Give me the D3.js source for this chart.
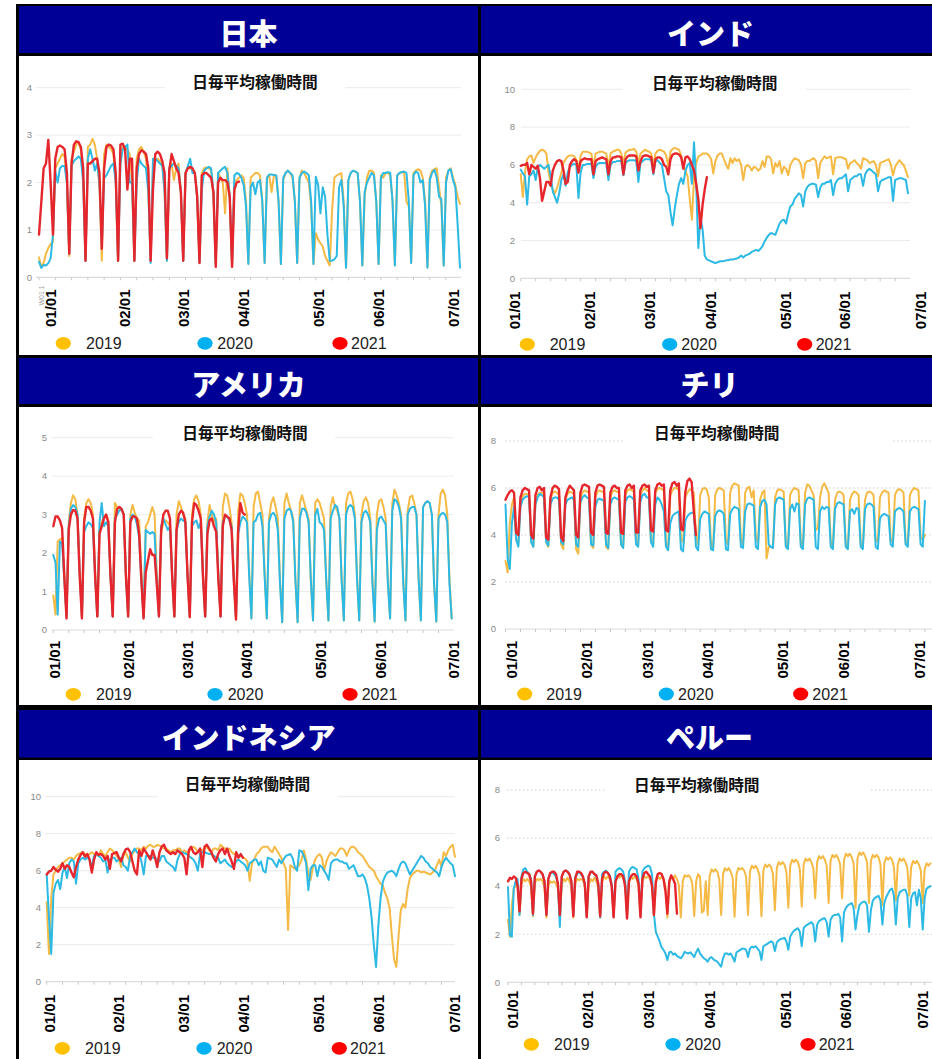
<!DOCTYPE html>
<html><head><meta charset="utf-8">
<script src="https://cdn.jsdelivr.net/npm/d3@7"></script>
<style>body{margin:0;background:#fff}svg{display:block}</style>
</head><body>
<svg id="c" width="932" height="1059"></svg>
<script>
// ---------- labels ----------
const countries = ["日本","インド","アメリカ","チリ","インドネシア","ペルー"];
const chartTitle = "日毎平均稼働時間";
const seriesNames = ["2019","2020","2021"];
const tickLabels = ["01/01","02/01","03/01","04/01","05/01","06/01","07/01"];

// ---------- Japan ----------
const jp2019 = [0.42,0.22,0.3,0.5,0.62,0.7,0.75,
2.3,2.4,2.5,2.6,2.55,2.0,0.45, 2.5,2.65,2.8,2.85,2.7,2.1,0.35, 2.75,2.8,2.92,2.8,2.5,1.9,0.35,
2.6,2.8,2.75,2.7,2.6,2.0,0.35, 2.6,2.75,2.75,2.7,2.6,2.0,0.35, 2.5,2.7,2.75,2.65,2.5,1.9,0.35,
2.35,2.45,2.5,2.45,2.4,1.8,0.35, 2.3,2.4,2.05,2.3,2.4,1.8,0.35, 2.2,2.3,2.3,2.25,2.2,1.7,0.3,
2.2,2.3,2.32,2.3,2.25,1.7,0.3, 2.2,2.1,2.0,1.35,2.3,1.7,0.28, 2.0,2.05,2.1,2.15,2.1,1.6,0.3,
2.1,2.15,2.2,2.2,2.15,1.6,0.3, 2.1,2.15,1.8,2.15,2.15,1.6,0.28, 2.05,2.2,2.25,2.2,2.1,1.6,0.3,
2.1,2.25,2.2,2.1,2.0,1.5,0.28, 0.93,0.8,0.72,0.65,0.45,0.35,0.25, 1.4,2.1,2.15,2.17,2.2,1.6,0.2,
2.05,2.2,2.25,2.23,2.2,1.6,0.25, 1.7,2.1,2.25,2.25,2.2,1.6,0.28, 2.15,2.1,2.2,2.2,2.15,1.6,0.25,
2.15,2.2,2.22,2.2,1.6,1.5,0.3, 2.2,2.25,2.28,2.25,2.1,1.6,0.22, 2.1,2.25,2.28,2.3,1.9,1.5,0.25,
2.1,2.25,2.3,2.1,1.95,1.7,1.55];
const jp2020 = [0.33,0.2,0.26,0.25,0.3,0.4,0.9,
2.25,2.0,2.3,2.35,2.35,2.0,0.5, 2.35,2.45,2.5,2.55,2.5,2.0,0.35, 2.5,2.7,2.5,2.25,2.4,2.0,0.65,
2.1,2.15,2.25,2.35,2.4,2.0,0.35, 2.4,2.7,2.75,2.8,2.0,2.0,0.35, 2.0,2.5,2.4,2.35,2.3,1.8,0.3,
2.5,2.5,2.45,2.4,2.35,1.8,0.35, 2.3,2.35,2.4,2.35,2.3,1.8,0.35, 2.2,2.35,2.5,2.2,2.2,1.7,0.3,
1.85,2.25,2.3,2.33,2.3,1.8,0.25, 2.2,2.25,2.3,2.33,2.2,1.7,0.26, 2.15,2.2,2.18,2.1,1.95,1.5,0.28,
1.9,2.0,1.75,2.0,2.05,1.6,0.3, 2.1,2.17,2.17,2.16,2.15,1.6,0.28, 2.1,2.2,2.25,2.2,2.15,1.6,0.3,
2.1,2.2,2.23,2.2,2.15,1.6,0.28, 2.12,1.95,1.35,1.9,1.7,0.9,0.35, 0.35,0.38,0.45,1.9,2.05,1.5,0.2,
2.05,2.2,2.25,2.23,2.2,1.6,0.25, 1.8,2.0,2.1,2.2,2.15,1.6,0.28, 2.1,2.2,2.2,2.22,2.2,1.6,0.25,
2.15,2.2,2.22,2.23,2.2,1.6,0.3, 2.15,2.23,2.2,2.0,2.05,1.5,0.2, 2.05,2.2,2.27,2.1,1.7,1.65,0.25,
2.0,2.25,2.28,2.05,1.9,1.1,0.2];
const jp2021 = [0.9,1.6,2.3,2.4,2.9,2.0,0.9,
2.5,2.75,2.78,2.75,2.7,2.2,0.5, 2.4,2.8,2.87,2.85,2.75,2.3,0.35, 2.4,2.4,2.45,2.5,2.5,2.2,0.6,
2.3,2.75,2.8,2.78,2.7,2.2,0.35, 2.8,2.82,2.7,1.85,2.5,2.5,0.35, 2.3,2.6,2.68,2.65,2.6,2.3,0.35,
1.85,2.6,2.65,2.6,2.45,2.2,0.4, 2.25,2.6,2.45,2.3,2.2,1.8,0.35, 2.2,2.3,2.33,2.3,2.2,1.7,0.3,
2.15,2.2,2.2,2.15,2.1,1.8,0.22, 2.0,2.1,2.05,2.05,2.0,1.7,0.22, 1.85,2.0,2.02];
const jpTickDays = [5.0,37.0,62.3,88.1,120.4,146.2,178.4];

// ---------- India ----------
const in2019 = [5.5,4.3,5.6,6.3,6.45,6.5,6.1, 6.4,6.6,6.75,6.8,6.75,6.6,5.6, 5.1,4.7,4.5,4.8,5.2,5.6,6.1,
6.3,6.45,6.5,6.5,6.45,6.3,5.8, 6.5,6.7,6.7,6.7,6.65,6.6,5.9, 6.6,6.65,6.7,6.7,6.65,6.6,5.9,
6.6,6.7,6.75,6.8,6.8,6.6,6.1, 6.65,6.75,6.8,6.8,6.85,6.7,6.1, 6.6,6.7,6.8,6.75,6.7,6.6,6.0,
6.6,6.75,6.8,6.75,6.7,6.5,5.9, 6.7,6.85,6.9,6.85,6.8,6.5,5.95, 5.7,5.4,4.2,3.1,5.3,6.1,6.45,
6.5,6.6,6.6,6.6,6.5,6.3,5.55, 6.2,6.5,6.6,6.6,6.3,6.0,5.8, 6.35,6.1,6.35,6.2,6.3,6.0,5.2,
5.9,6.0,5.9,5.7,5.9,5.85,5.7, 5.8,6.2,5.9,6.45,6.45,6.3,5.55, 6.1,5.9,6.2,5.55,5.9,5.8,5.45,
6.0,6.2,6.35,6.3,6.25,6.0,5.3, 6.1,6.2,6.2,6.3,6.35,6.2,5.3, 6.1,6.3,6.45,6.35,6.4,6.45,5.5,
6.35,6.4,6.4,6.4,6.35,6.3,5.8, 6.1,6.15,6.25,6.1,6.0,5.8,6.35, 6.3,6.25,6.1,6.15,6.2,6.0,5.4,
6.1,6.15,6.2,6.25,6.3,6.0,5.45, 5.9,6.1,6.25,6.1,6.0,5.7,5.35];
const in2020 = [5.75,5.55,5.4,3.9,5.4,5.5,5.7, 5.2,5.9,6.0,5.9,5.8,5.9,6.0, 5.4,4.6,4.3,4.0,4.5,5.2,5.5,
4.9,5.6,5.9,6.0,6.05,6.0,4.25, 5.6,6.0,6.0,6.05,6.05,6.05,5.3, 5.9,6.05,6.1,6.1,6.1,6.1,5.2,
6.0,6.15,6.15,6.2,6.2,6.2,5.45, 6.1,6.2,6.25,6.25,6.25,6.2,5.1, 6.1,6.2,6.3,6.3,6.3,6.25,5.5,
6.2,6.25,6.1,6.0,5.3,4.6,4.4, 3.5,2.8,3.7,4.4,5.0,5.3,5.0, 5.7,6.0,6.1,5.0,7.2,5.0,1.6,
3.2,2.6,1.2,1.0,0.95,0.9,0.85, 0.8,0.85,0.9,0.9,0.92,0.95,0.95, 1.0,1.0,1.02,1.05,1.1,1.2,1.1,
1.2,1.25,1.3,1.4,1.45,1.5,1.45, 1.55,1.7,1.95,2.15,2.3,2.4,2.35, 2.3,2.6,2.9,3.05,3.1,2.9,3.4,
3.8,3.9,4.2,4.35,4.5,4.4,3.8, 4.6,4.85,4.95,5.0,5.0,4.95,4.3, 4.8,5.0,5.0,5.1,5.1,5.2,4.4,
5.0,5.2,5.3,5.3,5.4,5.5,4.6, 5.2,5.3,5.4,5.4,5.5,5.5,4.9, 5.5,5.7,5.8,5.7,5.6,5.5,4.6,
5.1,5.2,5.25,5.3,5.35,5.35,4.1, 5.2,5.25,5.3,5.3,5.25,5.2,4.5];
const in2021 = [5.95,6.0,6.0,6.1,5.5,6.0,5.9, 5.8,5.95,5.3,4.1,4.6,5.1,5.1, 4.9,5.7,6.0,6.2,6.25,6.2,5.7,
5.0,5.1,6.0,6.2,6.3,6.2,5.6, 6.2,6.3,6.35,6.3,6.3,6.3,5.5, 6.2,6.3,6.35,6.4,6.35,6.3,5.5,
6.2,6.4,6.4,6.45,6.45,6.4,5.5, 6.3,6.45,6.5,6.5,6.5,6.45,5.7, 6.2,6.45,6.5,6.5,6.45,6.4,5.6,
6.3,6.4,6.4,6.3,6.0,5.9,5.5, 6.3,6.55,6.6,6.6,6.55,6.4,5.8, 6.4,6.45,6.3,6.0,5.7,5.0,4.2,
2.65,3.9,4.7,5.35];
const inTickDays = [-2.8,32.2,60.3,88.6,123.6,151.4,186.9];

// ---------- America ----------
const us2019 = [0.9,0.4,2.3,2.35,2.4,1.4,0.35, 2.8,3.3,3.5,3.4,3.0,1.5,0.35, 2.9,3.3,3.4,3.3,3.0,1.5,0.35,
2.6,2.8,2.95,3.0,2.85,1.4,0.35, 3.3,3.2,3.15,3.1,3.0,1.4,0.4, 3.0,3.25,3.05,2.9,2.85,1.5,0.35,
2.7,2.8,3.0,3.2,3.0,1.5,0.4, 2.5,2.8,2.85,2.8,2.7,1.4,0.35, 3.0,3.35,3.2,3.0,2.9,1.4,0.35,
3.0,3.4,3.5,3.35,3.0,1.5,0.35, 2.8,3.25,3.0,2.8,2.9,1.4,0.35, 3.2,3.55,3.5,3.2,2.8,1.5,0.3,
3.1,3.55,3.5,3.3,3.0,1.5,0.3, 3.2,3.55,3.6,3.3,3.0,1.5,0.3, 2.9,3.3,3.45,3.2,2.9,1.3,0.2,
3.3,3.55,3.3,3.1,2.9,1.3,0.2, 3.3,3.5,3.3,3.1,2.9,1.3,0.25, 3.3,3.4,3.3,3.1,2.9,1.3,0.25,
3.2,3.45,3.2,3.1,2.9,1.3,0.25, 3.3,3.55,3.6,3.4,3.0,1.4,0.25, 3.0,3.35,3.45,3.3,2.9,1.3,0.22,
3.0,3.35,3.4,3.2,2.9,1.3,0.3, 3.3,3.65,3.5,3.3,3.0,1.3,0.25, 3.1,3.45,3.5,3.3,3.0,1.3,0.25,
3.2,3.3,3.35,3.3,3.0,1.2,0.22, 3.0,3.55,3.65,3.5,3.0,1.3,0.3];
const us2020 = [1.95,1.75,0.4,2.3,2.25,1.3,0.35, 2.7,3.15,3.25,3.2,3.0,1.5,0.35, 2.55,2.7,2.8,2.75,2.65,1.4,0.35,
2.8,3.3,2.7,2.8,2.7,1.4,0.35, 2.9,3.0,3.1,3.15,3.0,1.4,0.35, 2.9,3.0,2.95,2.75,2.4,1.3,0.35,
2.6,2.55,2.5,2.55,2.5,1.3,0.35, 2.7,2.9,2.75,2.6,2.7,1.4,0.35, 2.6,2.8,2.9,2.85,2.8,1.4,0.35,
2.7,2.8,2.85,2.65,2.8,1.4,0.35, 2.7,2.95,3.1,3.0,2.8,1.4,0.35, 2.8,2.95,2.95,2.85,2.7,1.3,0.3,
2.5,2.8,2.95,2.9,2.8,1.4,0.3, 2.8,2.85,3.0,3.05,2.7,1.4,0.3, 2.8,3.0,3.05,2.95,2.6,1.2,0.2,
2.9,3.1,3.15,3.1,2.8,1.3,0.2, 2.9,3.15,3.15,3.05,2.8,1.3,0.25, 3.0,3.15,2.8,2.75,2.6,1.3,0.25,
2.9,3.1,3.25,3.2,2.9,1.3,0.25, 3.0,3.2,3.25,3.2,2.9,1.3,0.25, 2.8,3.05,3.1,3.0,2.8,1.2,0.22,
2.6,2.9,2.95,2.85,2.75,1.2,0.3, 3.1,3.4,3.35,3.2,2.9,1.2,0.25, 3.0,3.15,3.2,3.2,3.0,1.3,0.25,
3.2,3.3,3.35,3.3,3.0,1.2,0.22, 2.9,3.0,3.05,3.0,2.8,1.2,0.3];
const us2021 = [2.7,2.95,2.95,2.85,2.65,1.4,0.3, 2.6,3.0,3.12,3.1,2.9,1.4,0.3, 2.8,3.2,3.2,3.1,2.9,1.4,0.35,
2.5,2.7,2.9,3.0,2.8,1.4,0.35, 2.8,3.15,3.2,3.15,3.0,1.4,0.35, 2.8,2.95,2.95,2.9,2.5,1.3,0.3,
1.5,1.8,2.1,1.95,1.95,1.2,0.35, 2.6,3.0,3.1,3.1,2.9,1.4,0.35, 2.6,3.0,3.1,3.05,2.8,1.4,0.33,
2.8,3.3,3.25,3.1,2.9,1.4,0.35, 2.5,2.85,2.9,2.7,2.55,1.3,0.35, 2.7,3.0,2.95,2.9,2.6,1.3,0.27,
2.6,3.3,3.05,3.0];
const usTickDays = [0.45,34.1,61.1,87.9,121.5,148.5,181.8];

// ---------- Chile ----------
const cl2019 = [2.9,2.4,4.5,5.3,5.6,3.8,3.6, 5.4,5.65,5.75,5.75,5.7,3.7,3.5, 5.5,5.7,5.8,5.8,5.75,3.7,3.5,
5.5,5.8,5.85,5.8,5.7,3.6,3.4, 5.5,5.75,5.85,5.8,5.75,3.4,3.2, 5.6,5.8,5.9,5.85,5.8,3.6,3.45,
5.6,5.85,5.9,5.85,5.8,3.5,3.4, 5.6,5.85,5.9,5.85,5.8,3.6,3.5, 5.7,5.9,5.95,5.9,5.85,3.7,3.6,
5.7,5.9,6.0,5.9,5.85,3.7,3.6, 5.8,5.95,6.0,5.95,5.9,3.6,3.45, 5.7,5.9,6.0,6.0,5.9,3.8,3.7,
5.6,5.8,5.95,5.9,5.8,4.0,3.6, 5.7,5.95,6.0,5.95,5.6,3.7,3.4, 5.7,5.95,6.0,5.95,5.9,3.8,3.6,
5.8,6.1,6.2,6.15,6.1,3.8,3.6, 5.8,6.0,6.05,5.6,5.9,3.9,3.7, 5.5,5.8,5.9,3.0,3.5,3.5,3.45,
5.6,5.9,5.95,5.9,5.85,3.6,3.45, 5.7,5.9,6.0,5.95,5.9,3.7,3.5, 5.8,6.15,6.1,5.9,5.7,4.2,4.3,
5.6,6.05,6.2,6.0,5.8,3.7,3.5, 5.5,5.8,5.85,5.8,5.7,3.6,3.4, 5.5,5.75,5.85,5.8,5.7,3.6,3.5,
5.5,5.8,5.85,5.8,5.7,3.8,3.7, 5.6,5.8,5.9,5.85,5.8,3.8,3.7, 5.7,5.9,5.95,5.9,5.8,3.7,3.6,
5.7,5.9,6.0,5.95,5.9,3.9,3.8, 4.0];
const cl2020 = [5.3,3.0,2.55,4.5,5.2,3.8,3.5, 5.2,5.5,5.6,5.65,5.6,3.7,3.5, 5.3,5.6,5.75,5.7,5.6,3.7,3.55,
5.3,5.55,5.6,5.6,5.5,3.7,3.6, 5.3,5.5,5.55,5.6,5.5,3.6,3.5, 5.4,5.6,5.7,5.6,5.55,3.6,3.55,
5.2,5.5,5.55,5.5,5.45,3.6,3.45, 5.3,5.55,5.6,5.55,5.5,3.6,3.45, 5.4,5.6,5.65,5.6,5.5,3.6,3.5,
5.4,5.7,5.75,5.6,5.6,3.7,3.5, 5.3,5.6,5.5,5.3,5.0,3.5,3.35, 4.5,4.8,4.9,4.95,5.0,3.4,3.3,
4.6,4.8,4.9,4.95,4.95,3.5,3.35, 4.7,4.9,5.0,4.95,4.9,3.4,3.35, 4.8,5.0,5.05,5.0,4.9,3.4,3.35,
4.9,5.1,5.2,5.15,5.1,3.5,3.45, 5.0,5.3,5.35,5.3,5.25,3.5,3.4, 5.2,5.45,5.5,5.3,3.6,3.5,3.45,
5.3,5.55,5.6,5.55,5.5,3.5,3.4, 5.1,5.3,5.0,5.35,5.3,3.5,3.4, 5.3,5.55,5.6,5.55,5.5,3.5,3.4,
5.0,5.2,5.1,5.2,5.15,3.5,3.4, 5.1,5.35,5.4,5.35,5.3,3.5,3.4, 5.0,5.1,4.9,5.15,5.1,3.5,3.4,
5.1,5.3,5.35,5.3,5.2,3.5,3.4, 4.7,4.85,4.9,4.85,4.8,3.6,3.5, 5.0,5.1,5.15,5.1,5.0,3.6,3.5,
5.0,5.15,5.2,5.15,5.1,3.6,3.5, 5.45];
const cl2021 = [5.5,5.7,5.85,5.9,5.8,4.1,4.0, 5.6,5.9,6.0,5.95,5.9,4.0,3.85, 5.7,6.0,6.05,5.9,6.0,3.9,3.8,
5.6,6.0,6.1,6.05,5.95,3.9,3.75, 5.6,5.9,6.1,6.0,5.9,4.0,3.9, 5.8,6.1,6.15,6.1,6.05,4.1,4.0,
5.8,6.1,6.15,6.1,6.05,4.1,4.05, 5.8,6.05,6.1,6.0,6.0,4.1,4.05, 5.9,6.1,6.15,6.0,6.1,4.1,4.1,
5.9,6.1,6.15,6.05,6.1,4.2,4.15, 5.9,6.15,6.2,6.1,6.15,4.2,4.15, 5.9,6.2,6.25,6.1,6.2,4.25,4.2,
5.8,6.3,6.4,6.25,5.0,4.0];
const clTickDays = [2.7,37.8,66.3,94.6,129.7,158.0,193.6];

// ---------- Indonesia ----------
const id2019 = [4.3,1.5,4.5,5.8,6.0,6.2,6.3, 6.4,6.5,6.6,6.7,6.7,6.6,6.8, 6.9,6.95,7.0,6.9,6.8,6.9,7.0,
6.9,6.9,6.8,7.1,6.9,6.8,7.0, 7.2,7.1,7.0,6.8,6.6,6.2,6.8, 7.0,6.7,6.5,6.9,7.1,7.2,7.2,
7.1,7.3,7.2,7.35,7.4,7.3,7.3, 7.4,7.35,7.3,7.2,7.2,7.1,7.0, 7.1,7.1,7.2,7.2,7.0,7.1,7.0,
7.0,7.2,7.3,7.2,7.0,7.1,7.1, 7.2,7.3,7.1,7.0,7.2,7.2,7.1, 7.4,7.3,7.2,7.1,7.2,7.0,6.9,
6.9,6.8,6.8,6.7,6.65,6.5,5.45, 6.4,6.6,6.9,7.0,7.2,7.3,7.3, 7.3,7.1,7.0,7.3,7.1,6.9,6.7,
6.4,6.1,2.8,6.3,6.2,6.1,6.2, 6.3,6.6,7.1,6.6,5.8,5.5,6.2, 6.6,6.8,6.9,6.7,6.0,6.5,6.8,
7.0,6.9,6.8,7.0,7.2,7.2,7.1, 6.8,7.1,7.3,7.3,7.2,7.0,6.9, 6.8,6.6,6.4,6.2,6.1,6.0,5.7,
5.5,5.3,5.2,4.8,4.5,4.0,2.5, 1.2,0.8,2.5,3.9,4.2,4.0,5.0, 5.6,5.8,5.9,6.0,6.0,5.9,5.95,
5.9,5.85,5.8,5.9,6.0,6.3,6.6, 6.2,7.0,6.8,7.1,7.3,7.4,6.75];
const id2020 = [5.8,3.5,1.5,4.8,5.3,5.5,5.0, 5.9,6.2,5.6,6.4,6.6,6.5,5.3, 6.4,6.6,6.7,6.6,6.7,6.6,6.2,
6.8,6.9,6.8,6.7,6.5,6.6,5.9, 6.6,6.7,6.7,6.5,6.6,6.7,6.3, 6.2,6.0,6.8,7.0,7.2,7.0,6.9,
6.5,5.8,6.8,6.8,6.8,6.7,6.7, 6.6,6.5,6.8,6.8,6.5,6.4,6.3, 6.2,6.0,6.6,6.9,7.0,6.95,6.9,
6.8,6.7,6.6,6.4,6.0,6.9,7.0, 7.0,6.95,6.9,6.9,6.8,6.75,6.7, 6.4,6.5,6.6,6.4,6.3,6.2,6.3,
6.5,6.6,6.5,6.4,6.3,6.0,6.4, 6.5,6.6,6.6,6.3,6.5,6.0,5.9, 6.7,6.65,6.6,6.4,6.2,6.6,6.4,
6.6,6.8,6.85,6.9,6.7,6.2,6.0, 7.1,7.05,6.8,6.4,4.95,6.1,6.3, 6.3,5.7,6.3,6.2,6.0,5.8,5.5,
6.4,6.55,6.6,6.6,6.5,6.5,6.4, 6.4,6.1,6.2,6.3,6.0,5.7,5.7, 5.8,5.6,5.2,4.5,3.5,2.0,0.8,
3.0,4.5,5.4,5.7,5.9,5.95,6.0, 5.9,5.7,6.1,6.4,6.5,6.4,6.1, 5.8,6.0,6.2,6.4,6.6,6.8,6.7,
6.5,6.4,6.2,6.1,6.0,5.9,5.7, 6.2,6.5,6.7,6.55,6.4,6.3,5.7];
const id2021 = [5.8,5.95,6.0,6.2,6.05,5.95,6.1, 6.4,6.1,6.3,6.2,5.9,5.65,6.2, 6.6,6.85,7.0,6.75,6.9,6.6,5.9,
6.6,7.0,6.85,6.9,6.8,6.6,6.8, 6.1,6.9,6.95,7.0,6.7,6.5,6.9, 7.15,7.2,7.0,6.5,6.0,5.8,7.1,
6.8,7.2,7.0,6.8,6.6,7.1,6.7, 6.2,7.0,7.3,7.4,7.1,7.0,6.9, 7.0,6.9,7.1,7.0,6.9,6.7,5.8,
7.1,7.3,7.0,6.9,7.0,7.2,6.2, 7.3,7.4,7.2,7.0,6.7,6.5,6.9, 7.1,7.2,6.9,7.2,6.8,6.5,6.1,
7.0,6.7,6.9,6.7];
const idTickDays = [1.5,32.0,60.6,87.2,120.4,147.0,180.6];

// ---------- Peru ----------
const pe2019 = [2.6,1.9,3.2,3.9,4.0,4.1,2.8, 4.05,4.3,4.2,4.3,4.2,4.0,2.75, 4.1,4.3,4.25,4.3,4.2,3.95,2.7,
4.0,4.2,4.15,4.2,4.1,3.9,2.75, 4.05,4.3,4.2,4.35,4.2,4.0,2.7, 4.1,4.3,4.25,4.3,4.25,4.0,2.75,
4.0,4.3,4.2,4.35,4.2,3.95,2.7, 4.15,4.4,4.3,4.4,4.3,4.05,2.75, 4.2,4.45,4.35,4.45,4.3,4.1,2.8,
4.15,4.4,4.3,4.4,4.3,4.0,2.75, 4.2,4.4,4.35,4.4,4.3,4.1,2.75, 4.1,4.4,4.3,4.4,4.3,4.0,2.7,
4.15,4.4,4.3,4.45,4.3,4.05,2.7, 4.2,4.45,4.4,4.45,4.35,4.1,2.75, 4.2,4.5,4.4,2.9,3.0,4.2,2.8,
4.4,4.7,4.6,4.7,4.6,4.3,2.8, 4.5,4.75,4.65,4.75,4.6,4.35,2.73, 4.5,4.75,4.7,4.75,4.65,4.4,2.8,
4.6,4.85,4.75,4.85,4.7,4.45,2.75, 4.65,4.9,4.8,4.9,4.8,4.5,3.0, 4.75,5.0,4.9,5.0,4.9,4.6,3.1,
4.85,5.1,5.0,5.1,5.0,4.7,3.15, 4.9,5.15,5.05,5.15,5.0,4.75,3.5, 5.0,5.25,5.15,5.25,5.1,4.85,3.3,
5.05,5.3,5.2,5.3,5.15,4.9,3.5, 5.1,5.35,5.25,5.35,5.2,4.95,3.1, 5.15,5.4,5.3,5.4,5.25,5.0,3.3,
5.05,5.3,5.2,5.3,5.2,4.9,3.2, 4.95,5.2,5.1,5.2,5.1,4.8,3.4, 4.9,5.15,5.05,5.15,5.0,4.75,3.6,
4.8,5.05,4.95,5.05,4.9,4.65,3.3, 4.7,4.95,4.85,4.95];
const pe2020 = [3.95,1.95,1.9,3.9,4.2,4.3,2.8, 4.4,4.7,4.75,4.6,4.5,4.3,2.8, 4.4,4.6,4.65,4.6,4.5,4.2,2.8,
4.3,4.5,4.6,4.5,4.4,4.1,2.3, 4.4,4.6,4.65,4.6,4.5,4.2,2.8, 4.4,4.5,4.6,4.5,4.4,4.1,2.75,
4.4,4.55,4.6,4.5,4.4,4.1,2.7, 4.5,4.6,4.65,4.55,4.45,4.1,2.75, 4.6,4.7,4.75,4.7,4.6,4.2,2.8,
4.6,4.75,4.8,4.75,4.7,4.3,2.8, 4.6,4.75,4.8,4.85,4.8,4.5,2.85, 2.1,1.9,1.7,1.45,1.35,1.2,0.93,
1.25,1.27,1.15,1.2,1.1,1.05,1.0, 1.1,1.27,1.22,1.2,1.25,1.15,1.05, 1.25,1.4,1.2,1.1,1.0,0.95,0.86,
1.0,1.05,0.95,0.9,0.86,0.75,0.65, 1.0,1.2,1.2,1.15,1.2,1.05,0.86, 1.25,1.3,1.35,1.4,1.4,1.35,1.05,
1.4,1.48,1.45,1.5,1.4,1.3,0.93, 1.5,1.55,1.6,1.65,1.7,1.65,1.3, 1.65,1.75,1.8,1.82,1.85,1.7,1.35,
1.9,2.05,2.15,2.2,2.25,2.1,1.5, 2.25,2.35,2.4,2.45,2.5,2.4,1.7, 2.4,2.55,2.6,2.65,2.66,2.5,1.9,
2.6,2.75,2.8,2.8,2.85,2.7,1.7, 2.9,3.1,3.2,3.25,3.3,3.1,2.2, 2.8,3.2,3.3,3.35,3.35,3.2,2.1,
3.0,3.4,3.5,3.55,3.6,3.4,2.4, 3.3,3.55,3.7,3.85,3.9,3.6,2.4, 3.5,3.75,3.8,3.85,3.85,3.6,2.3,
3.5,3.7,3.75,3.2,3.85,3.5,2.2, 3.5,3.9,3.95,4.0];
const pe2021 = [4.2,4.35,4.3,4.4,4.35,4.0,2.95, 4.3,4.55,4.6,4.55,4.5,4.2,2.85, 4.4,4.6,4.65,4.6,4.5,4.2,2.8,
4.3,4.55,4.6,4.6,4.5,4.1,2.8, 4.4,4.6,4.65,4.6,4.5,4.2,2.75, 4.3,4.6,4.6,4.55,4.4,4.1,2.7,
4.4,4.6,4.6,4.5,4.45,4.1,2.75, 4.3,4.55,4.6,4.55,4.4,4.0,2.7, 4.2,4.4,4.5,4.5,4.4,4.0,2.65,
4.2,4.4,4.5,4.5,4.4,4.1,2.7, 4.3,4.55,4.6,4.5,4.4,4.0,2.8, 4.2,4.5,4.55,4.5,4.3,3.8,2.85,
4.2,4.45,4.3,4.1,2.85];
const peTickDays = [2.2,41.7,73.3,105.1,144.4,175.9,215.8];

// ---------- styles ----------
const lineColors = ["#F5BA45","#2CB9E4","#E6262D"];
const legendColors = ["#FFC000","#00B0F0","#FF0000"];
const headerBlue = "#000096";

// ---------- layout (pixels) ----------
const panels = [
 {country:countries[0], data:[jp2019,jp2020,jp2021], tickDays:jpTickDays, yMax:4, yStep:1,
  cell:{x:19,w:459,hy:6,hh:47,cy:56,ch:299}, head:[248.5,31.5],
  x:[39,460], y:[277.3,87.7], grid:[36,461], yLab:32, gap:[165,345], title:[255,81.3], labTop:289.5,
  leg:{cy:343.3, cx:[63.3,205,340], tx:[86,217.3,351]}, dotted:false, extra:true},
 {country:countries[1], data:[in2019,in2020,in2021], tickDays:inTickDays, yMax:10, yStep:2,
  cell:{x:481,w:459,hy:6,hh:47,cy:56,ch:299}, head:[710.5,31.5],
  x:[520.7,908], y:[278.3,89.3], grid:[521,910], yLab:515, gap:[623,806], title:[714.7,82.2], labTop:291.7,
  leg:{cy:344.3, cx:[527.3,669.7,804.7], tx:[549.7,681.3,815.7]}, dotted:false},
 {country:countries[2], data:[us2019,us2020,us2021], tickDays:usTickDays, yMax:5, yStep:1,
  cell:{x:19,w:459,hy:358,hh:46,cy:407,ch:298}, head:[248.5,383],
  x:[53.3,451.7], y:[630,437.7], grid:[51.7,453.3], yLab:47, gap:[153,335], title:[245,432.3], labTop:641,
  leg:{cy:694.3, cx:[73.3,215,350], tx:[96,227.7,361.7]}, dotted:false},
 {country:countries[3], data:[cl2019,cl2020,cl2021], tickDays:clTickDays, yMax:8, yStep:2,
  cell:{x:481,w:459,hy:358,hh:46,cy:407,ch:298}, head:[709.5,383],
  x:[505.5,924.9], y:[629,441], grid:[505,940], yLab:496, gap:[625,891], title:[716.8,432.3], labTop:641,
  leg:{cy:694, cx:[524.7,666.3,800.7], tx:[546.3,678,812.3]}, dotted:true},
 {country:countries[4], data:[id2019,id2020,id2021], tickDays:idTickDays, yMax:10, yStep:2,
  cell:{x:19,w:459,hy:710,hh:47.5,cy:760,ch:300}, head:[248.5,735.5],
  x:[46.7,455], y:[981.7,796.7], grid:[45,455], yLab:41, gap:[157,338], title:[247.5,783.3], labTop:995,
  leg:{cy:1048.3, cx:[62.3,204,339.3], tx:[85,216.7,350]}, dotted:false},
 {country:countries[5], data:[pe2019,pe2020,pe2021], tickDays:peTickDays, yMax:8, yStep:2,
  cell:{x:481,w:459,hy:710,hh:47.5,cy:760,ch:300}, head:[709.5,735.5],
  x:[508,930.4], y:[982.3,790], grid:[507,940], yLab:500, gap:[606,871], title:[696.8,784.3], labTop:991,
  leg:{cy:1044.3, cx:[531.3,673,808], tx:[554,685.3,818.7]}, dotted:true}
];

const svg = d3.select("#c");
svg.append("rect").attr("x",16).attr("y",4).attr("width",932-16).attr("height",1059-4).attr("fill","#000");

panels.forEach(p => {
  const g = svg.append("g");
  const c = p.cell;
  g.append("rect").attr("x",c.x).attr("y",c.hy).attr("width",c.w).attr("height",c.hh).attr("fill",headerBlue);
  g.append("rect").attr("x",c.x).attr("y",c.cy).attr("width",c.w).attr("height",c.ch).attr("fill","#fff");
  g.append("text").attr("x",p.head[0]).attr("y",p.head[1]).attr("text-anchor","middle")
    .attr("dominant-baseline","central").attr("fill","#fff")
    .style("font-family","'Noto Sans CJK JP'").style("font-weight","900").style("font-size","29px")
    .text(p.country);

  const maxLen = d3.max(p.data, d => d.length);
  const nDays = p.data[1].length;
  const xs = d3.scaleLinear().domain([0, nDays-1]).range(p.x);
  const ys = d3.scaleLinear().domain([0, p.yMax]).range(p.y);
  const ticks = d3.range(0, p.yMax + 0.001, p.yStep);

  // gridlines
  const grid = g.append("g");
  ticks.filter(t => t > 0).forEach(t => {
    grid.append("line").attr("x1",p.grid[0]).attr("x2",p.grid[1]).attr("y1",ys(t)).attr("y2",ys(t))
      .attr("stroke", p.dotted ? "#cfcfcf" : "#ebebeb").attr("stroke-width",1)
      .attr("stroke-dasharray", p.dotted ? "1.5,2.5" : null);
  });
  // baseline
  grid.append("line").attr("x1",p.grid[0]).attr("x2",p.grid[1]).attr("y1",ys(0)).attr("y2",ys(0))
    .attr("stroke","#dcdcdc").attr("stroke-width",1.2);
  d3.range(0, nDays, 7).forEach(d => {
    grid.append("line").attr("x1",xs(d)).attr("x2",xs(d)).attr("y1",ys(0)).attr("y2",ys(0)+3)
      .attr("stroke","#c8c8c8").attr("stroke-width",1);
  });
  // y tick labels
  g.selectAll(null).data(ticks).enter().append("text")
    .attr("x",p.yLab).attr("y",d=>ys(d)).attr("dy","0.35em").attr("text-anchor","end")
    .attr("fill","#8a8a8a").style("font-family","'Liberation Sans',Arial").style("font-size","9.5px")
    .text(d=>d);

  // series lines
  const line = d3.line().x((d,i)=>xs(i)).y(d=>ys(d)).curve(d3.curveLinear);
  p.data.forEach((arr, si) => {
    g.append("path").datum(arr).attr("d", line).attr("fill","none")
      .attr("stroke", lineColors[si]).attr("stroke-width", si === 2 ? 2.4 : 2)
      .attr("stroke-linejoin","round").attr("stroke-linecap","round");
  });

  // title with white box over top gridline
  g.append("rect").attr("x",p.gap[0]).attr("y",ys(p.yMax)-2).attr("width",p.gap[1]-p.gap[0]).attr("height",4).attr("fill","#fff");
  g.append("text").attr("x",p.title[0]).attr("y",p.title[1]).attr("text-anchor","middle")
    .attr("dominant-baseline","central").attr("fill","#111")
    .style("font-family","'Noto Sans CJK JP'").style("font-weight","700").style("font-size","15.7px")
    .text(chartTitle);

  // x labels
  g.selectAll(null).data(tickLabels).enter().append("text")
    .attr("transform",(d,i)=>`translate(${xs(p.tickDays[i])},${p.labTop}) rotate(-90)`)
    .attr("text-anchor","end").attr("dy","0.36em").attr("fill","#000")
    .style("font-family","'Liberation Sans',Arial").style("font-weight","700").style("font-size","15px")
    .text(d=>d);
  if (p.extra) {
    g.append("text").attr("transform",`translate(${xs(0)+2.5},${ys(0)+8}) rotate(-90)`)
      .attr("text-anchor","end").attr("dy","0.35em").attr("fill","#9a9a9a")
      .style("font-family","'Liberation Sans',Arial").style("font-size","7px").text("W01 1");
  }

  // legend
  seriesNames.forEach((s, si) => {
    g.append("ellipse").attr("cx",p.leg.cx[si]).attr("cy",p.leg.cy).attr("rx",7.6).attr("ry",6.4).attr("fill",legendColors[si]);
    g.append("text").attr("x",p.leg.tx[si]).attr("y",p.leg.cy).attr("dy","0.36em").attr("fill","#222")
      .style("font-family","'Liberation Sans',Arial").style("font-size","16px").text(s);
  });
});
</script>
</body></html>
